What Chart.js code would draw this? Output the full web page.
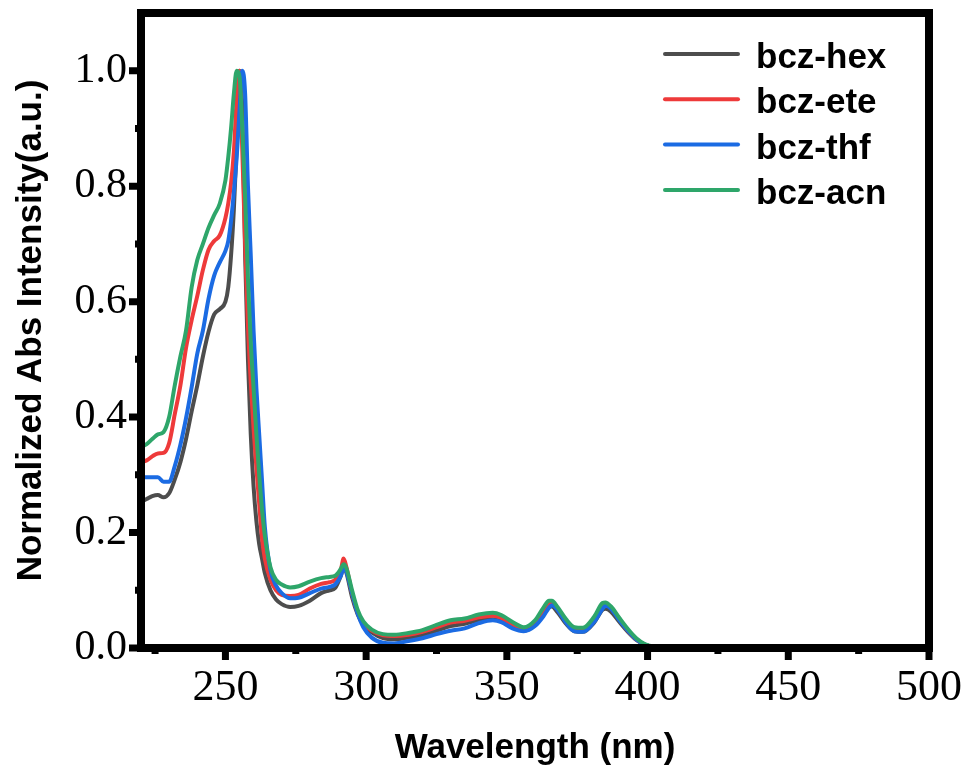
<!DOCTYPE html>
<html>
<head>
<meta charset="utf-8">
<script src="https://cdn.jsdelivr.net/npm/chart.js@4.4.1/dist/chart.umd.min.js"></script>
<style>
  body { margin: 0; background: #fff; }
  canvas { display: block; }
</style>
</head>
<body>
<canvas id="absChart" width="966" height="774"></canvas>
<script>
// wavelength grid (nm), shared by all four spectra
const wavelengths = [220, 222, 224, 226, 228, 230, 232, 234, 236, 238, 240, 242, 244, 246, 248, 250,
  251, 252, 253, 254, 255, 256, 257, 258, 259, 260, 261, 262, 263, 264, 266, 268, 270, 273, 276,
  280, 284, 287, 289, 291, 292, 293, 295, 297, 299, 302, 306, 310, 315, 320, 325, 330, 335, 340,
  345, 348, 352, 356, 360, 363, 365, 366, 368, 371, 374, 377, 381, 384, 385, 387, 390, 393, 396,
  399, 402, 410, 500];

const hexValues = [0.253, 0.258, 0.263, 0.265, 0.261, 0.268, 0.292, 0.322, 0.362, 0.410, 0.455, 0.505,
  0.548, 0.578, 0.587, 0.600, 0.625, 0.680, 0.760, 0.870, 1.000, 0.930, 0.680, 0.500, 0.370, 0.280,
  0.220, 0.180, 0.155, 0.130, 0.100, 0.084, 0.076, 0.071, 0.073, 0.082, 0.095, 0.100, 0.104, 0.125,
  0.140, 0.130, 0.088, 0.058, 0.040, 0.027, 0.017, 0.015, 0.018, 0.022, 0.030, 0.038, 0.042, 0.048,
  0.050, 0.046, 0.036, 0.030, 0.040, 0.058, 0.071, 0.072, 0.062, 0.042, 0.029, 0.028, 0.044, 0.066,
  0.068, 0.063, 0.045, 0.028, 0.014, 0.006, 0.003, 0.003, 0.003];

const eteValues = [0.322, 0.325, 0.332, 0.337, 0.338, 0.355, 0.405, 0.455, 0.520, 0.568, 0.610, 0.655,
  0.690, 0.705, 0.715, 0.745, 0.770, 0.805, 0.860, 0.950, 1.000, 0.860, 0.700, 0.560, 0.460, 0.380,
  0.313, 0.250, 0.190, 0.155, 0.118, 0.100, 0.092, 0.090, 0.092, 0.103, 0.111, 0.114, 0.118, 0.135,
  0.155, 0.140, 0.095, 0.062, 0.043, 0.030, 0.022, 0.021, 0.023, 0.028, 0.036, 0.044, 0.047, 0.053,
  0.056, 0.052, 0.041, 0.034, 0.045, 0.065, 0.077, 0.078, 0.068, 0.046, 0.032, 0.032, 0.050, 0.073,
  0.075, 0.070, 0.050, 0.030, 0.015, 0.006, 0.003, 0.003, 0.003];

const thfValues = [0.296, 0.296, 0.296, 0.296, 0.288, 0.288, 0.315, 0.352, 0.398, 0.452, 0.510, 0.550,
  0.605, 0.645, 0.668, 0.688, 0.705, 0.740, 0.790, 0.850, 0.930, 1.000, 0.960, 0.800, 0.680, 0.550,
  0.450, 0.370, 0.290, 0.210, 0.135, 0.108, 0.095, 0.086, 0.087, 0.095, 0.103, 0.106, 0.110, 0.125,
  0.138, 0.132, 0.095, 0.060, 0.036, 0.018, 0.009, 0.008, 0.012, 0.017, 0.024, 0.030, 0.034, 0.043,
  0.048, 0.045, 0.034, 0.029, 0.038, 0.055, 0.070, 0.074, 0.066, 0.044, 0.029, 0.028, 0.045, 0.068,
  0.073, 0.068, 0.048, 0.030, 0.015, 0.006, 0.003, 0.003, 0.003];

const acnValues = [0.348, 0.353, 0.362, 0.370, 0.374, 0.400, 0.455, 0.505, 0.550, 0.625, 0.672, 0.700,
  0.728, 0.750, 0.770, 0.810, 0.850, 0.900, 0.960, 1.000, 0.990, 0.900, 0.780, 0.640, 0.530, 0.450,
  0.370, 0.300, 0.240, 0.195, 0.140, 0.118, 0.110, 0.105, 0.107, 0.115, 0.121, 0.123, 0.125, 0.137,
  0.145, 0.138, 0.100, 0.066, 0.046, 0.032, 0.024, 0.023, 0.026, 0.031, 0.040, 0.048, 0.051, 0.058,
  0.061, 0.057, 0.045, 0.036, 0.048, 0.070, 0.082, 0.082, 0.071, 0.050, 0.036, 0.035, 0.054, 0.078,
  0.079, 0.072, 0.052, 0.033, 0.017, 0.007, 0.003, 0.003, 0.003];

const seriesNames = ["bcz-hex", "bcz-ete", "bcz-thf", "bcz-acn"];
const seriesColors = ["#4d4d4d", "#ee3a3a", "#1b6be3", "#2ea66a"];

const xMajorTicks = [250, 300, 350, 400, 450, 500];
const xMinorTicks = [225, 275, 325, 375, 425, 475];
const yMajorTicks = [0, 0.2, 0.4, 0.6, 0.8, 1.0];
const yMinorTicks = [0.1, 0.3, 0.5, 0.7, 0.9];

const xTitle = "Wavelength (nm)";
const yTitle = "Normalized Abs Intensity(a.u.)";

function toPoints(values) {
  return wavelengths.map((w, i) => ({ x: w, y: values[i] }));
}

const allValues = [hexValues, eteValues, thfValues, acnValues];

// frame, tick marks, titles and the legend are drawn here
const framePlugin = {
  id: "frame",
  afterDatasetsDraw(chart) {
    const ctx = chart.ctx;
    const ca = chart.chartArea;
    const xs = chart.scales.x;
    const ys = chart.scales.y;
    ctx.save();
    ctx.strokeStyle = "#000";
    ctx.lineWidth = 8;
    ctx.strokeRect(ca.left, ca.top, ca.right - ca.left, ca.bottom - ca.top);

    ctx.lineWidth = 7;
    ctx.beginPath();
    xMajorTicks.forEach(v => {
      let px = xs.getPixelForValue(v);
      ctx.moveTo(px, ca.bottom);
      ctx.lineTo(px, ca.bottom + 12);
    });
    xMinorTicks.forEach(v => {
      let px = xs.getPixelForValue(v);
      ctx.moveTo(px, ca.bottom);
      ctx.lineTo(px, ca.bottom + 6);
    });
    yMajorTicks.forEach(v => {
      let py = ys.getPixelForValue(v);
      ctx.moveTo(ca.left, py);
      ctx.lineTo(ca.left - 12, py);
    });
    yMinorTicks.forEach(v => {
      let py = ys.getPixelForValue(v);
      ctx.moveTo(ca.left, py);
      ctx.lineTo(ca.left - 6, py);
    });
    ctx.stroke();
    ctx.restore();
  },
  afterDraw(chart) {
    const ctx = chart.ctx;
    const ca = chart.chartArea;
    ctx.save();
    ctx.fillStyle = "#000";
    ctx.font = "bold 35px 'Liberation Sans', Arial, sans-serif";
    ctx.textAlign = "center";
    ctx.textBaseline = "middle";
    ctx.fillText(xTitle, (ca.left + ca.right) / 2, 748);

    ctx.translate(31, (ca.top + ca.bottom) / 2);
    ctx.rotate(-Math.PI / 2);
    ctx.fillText(yTitle, 0, 0);
    ctx.restore();

    // legend
    ctx.save();
    ctx.font = "bold 35px 'Liberation Sans', Arial, sans-serif";
    ctx.textAlign = "left";
    ctx.textBaseline = "alphabetic";
    chart.data.datasets.forEach((ds, i) => {
      let y = 54 + i * 45.3;
      ctx.strokeStyle = ds.borderColor;
      ctx.lineWidth = 4;
      ctx.lineCap = "round";
      ctx.beginPath();
      ctx.moveTo(665, y);
      ctx.lineTo(738, y);
      ctx.stroke();
      ctx.fillStyle = "#000";
      ctx.fillText(ds.label, 756, y + 14);
    });
    ctx.restore();
  }
};

const datasets = seriesNames.map((name, i) => ({
  label: name,
  data: toPoints(allValues[i]),
  borderColor: seriesColors[i],
  borderWidth: 4,
  pointRadius: 0,
  fill: false,
  cubicInterpolationMode: "monotone",
  order: seriesNames.length - i
}));

new Chart(document.getElementById("absChart"), {
  type: "line",
  data: { datasets: datasets },
  options: {
    responsive: false,
    animation: false,
    layout: { padding: { left: 0, right: 37, top: 13, bottom: 0 } },
    plugins: {
      legend: { display: false },
      tooltip: { enabled: false }
    },
    scales: {
      x: {
        type: "linear",
        min: 220,
        max: 500,
        afterBuildTicks: s => { s.ticks = xMajorTicks.map(v => ({ value: v })); },
        afterFit: s => { s.height = 126; s.paddingLeft = 0; s.paddingRight = 0; },
        grid: { display: false, drawTicks: false },
        border: { display: false },
        ticks: {
          padding: 14,
          color: "#000",
          font: { family: "'Liberation Serif', 'Times New Roman', serif", size: 44 },
          maxRotation: 0,
          autoSkip: false,
          callback: v => String(v)
        }
      },
      y: {
        min: 0,
        max: 1.1,
        afterBuildTicks: s => { s.ticks = yMajorTicks.map(v => ({ value: v })); },
        afterFit: s => { s.width = 141; s.paddingTop = 0; s.paddingBottom = 0; },
        grid: { display: false, drawTicks: false },
        border: { display: false },
        ticks: {
          padding: 14,
          color: "#000",
          font: { family: "'Liberation Serif', 'Times New Roman', serif", size: 42 },
          autoSkip: false,
          callback: v => v.toFixed(1)
        }
      }
    }
  },
  plugins: [framePlugin]
});
</script>
</body>
</html>
